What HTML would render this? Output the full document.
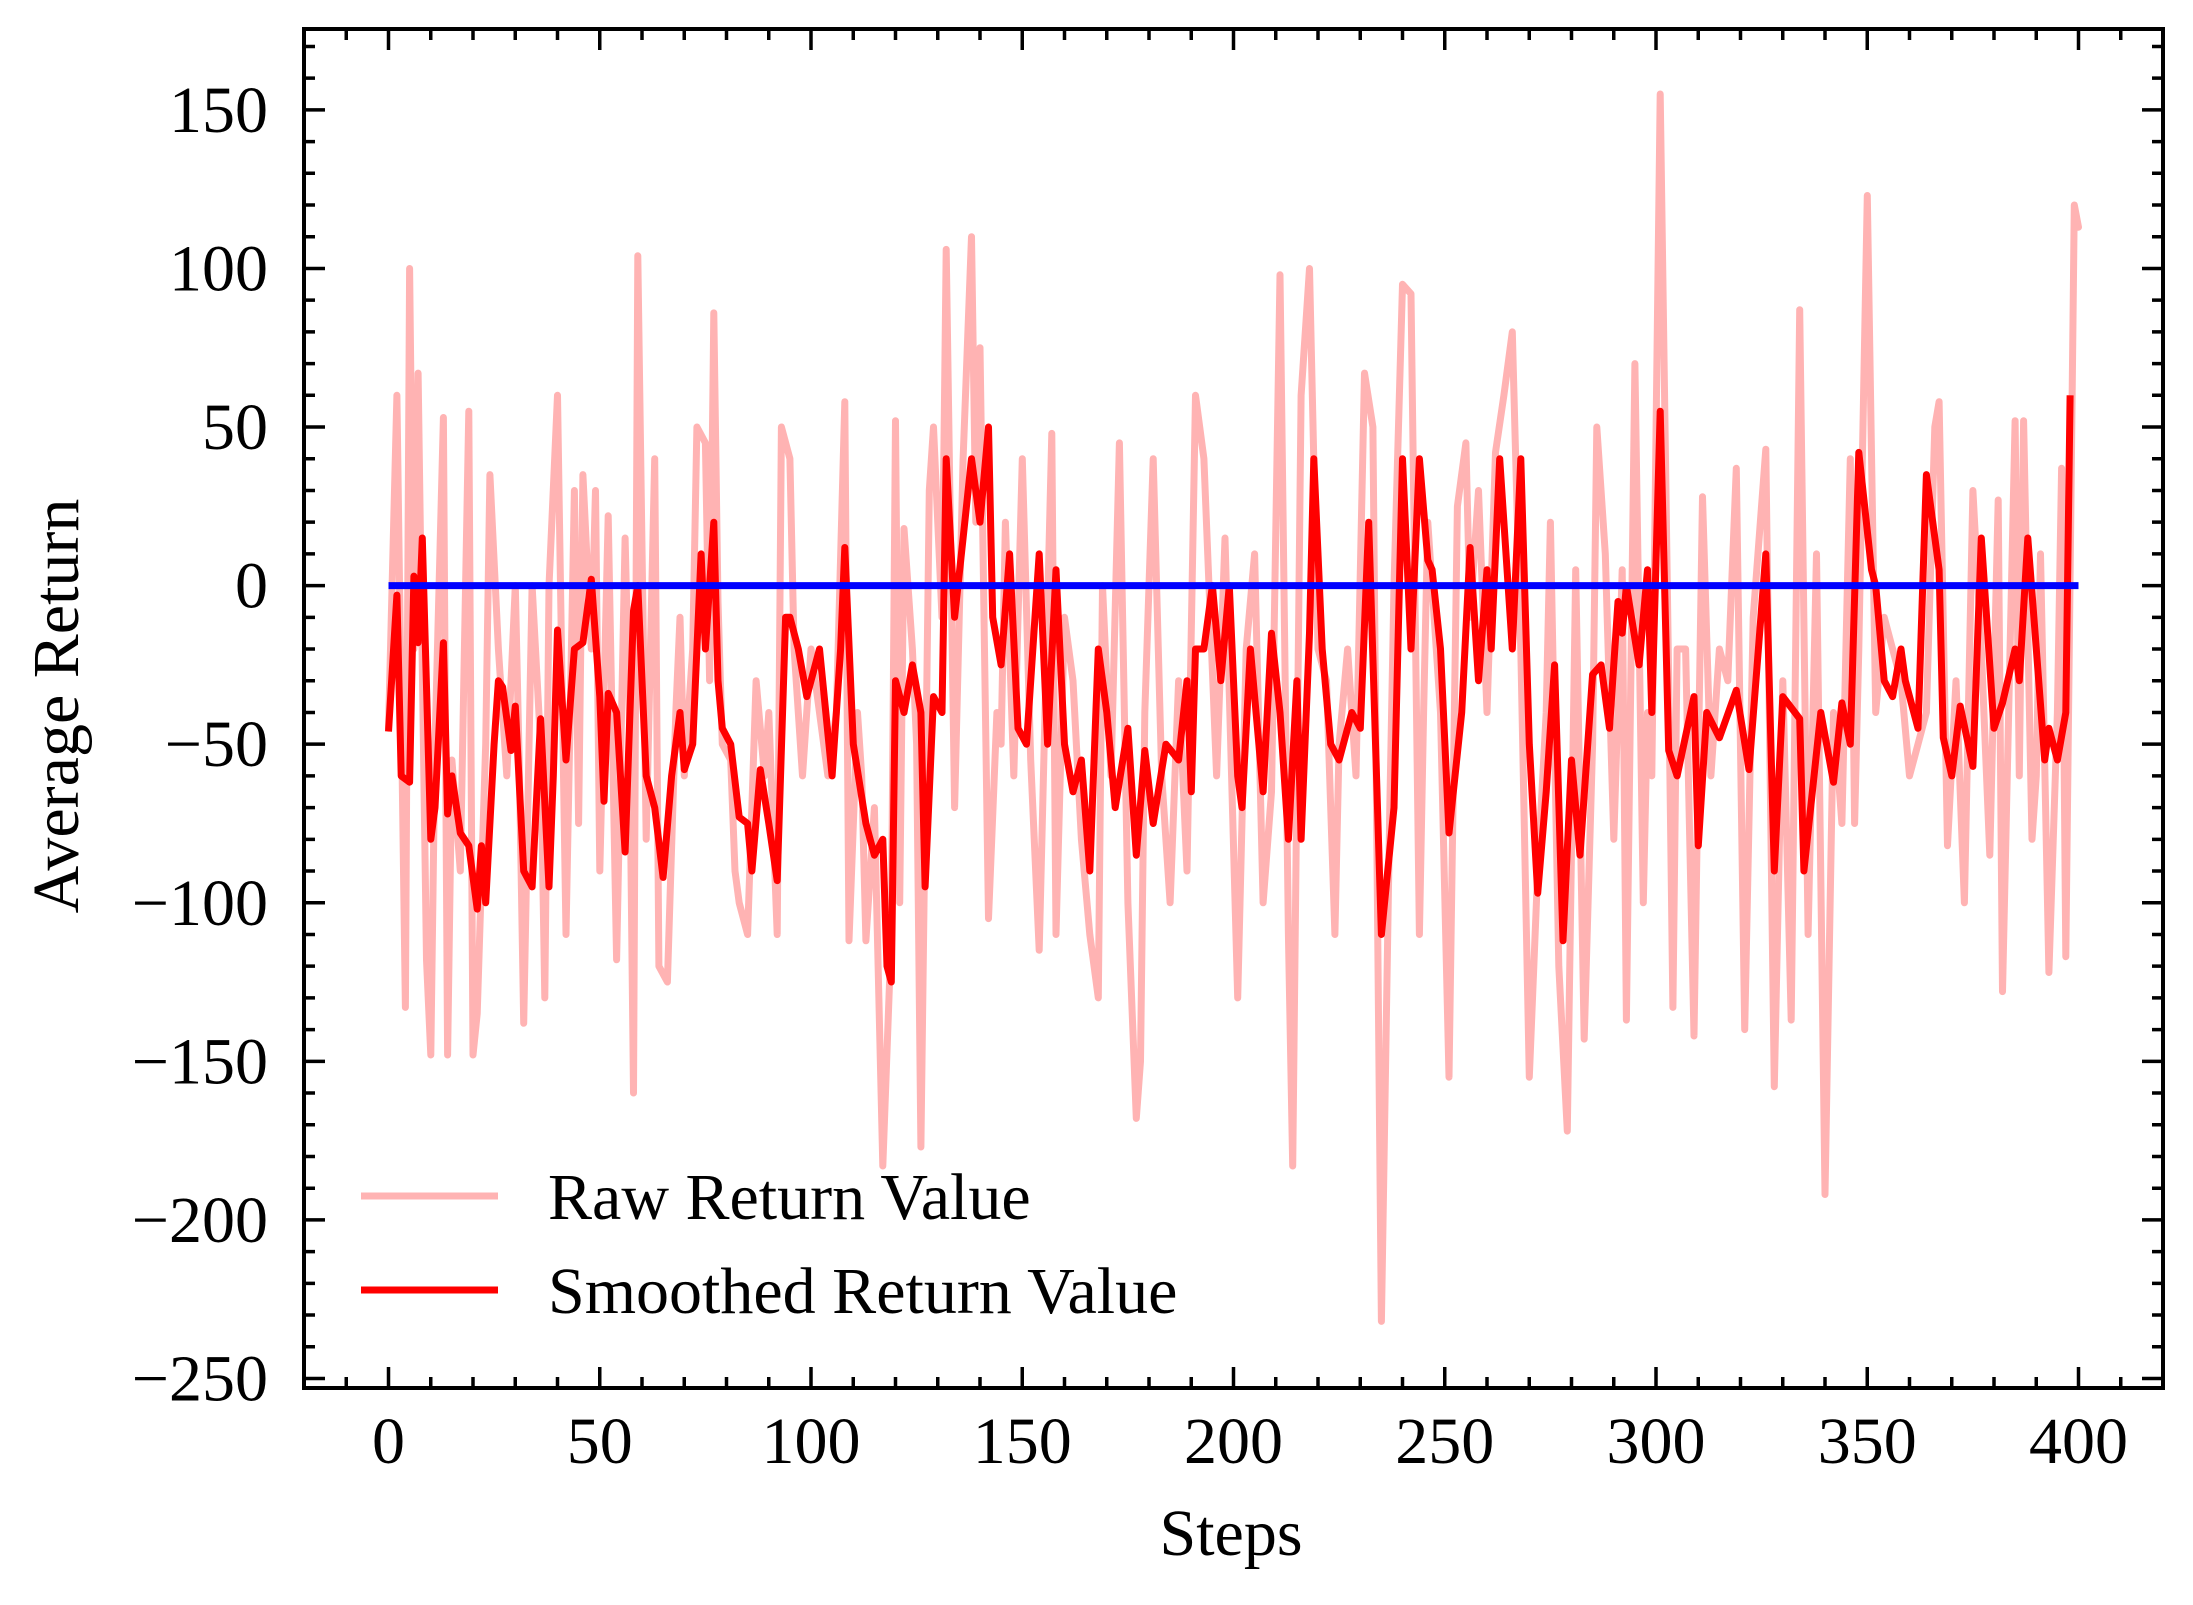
<!DOCTYPE html>
<html><head><meta charset="utf-8"><style>
html,body{margin:0;padding:0;background:#fff;}
svg text{font-family:"Liberation Serif",serif;fill:#000;}
</style></head><body>
<svg id="chart" width="2193" height="1600" viewBox="0 0 2193 1600" xmlns="http://www.w3.org/2000/svg">
<rect width="2193" height="1600" fill="#fff"/>
<g id="plot"></g>
</svg>
<script>
const rawSteps=[0,2,4,5,6,7,9,10,11,13,14,15,17,19,20,21,23,24,26,28,30,31,32,34,36,37,38,40,42,44,45,46,48,49,50,52,54,56,57,58,59,61,63,64,66,68,69,70,72,73,75,76,77,78,79,81,82,83,85,87,89,90,92,93,95,96,98,100,102,104,106,108,109,111,112,113,115,117,119,120,121,122,124,125,126,128,129,131,132,134,136,138,139,140,142,144,145,146,148,150,152,154,157,158,160,162,164,166,168,169,171,173,175,177,178,179,181,183,185,187,189,191,193,196,198,201,203,205,207,209,211,213,214,216,218,220,222,224,225,227,229,231,233,235,237,238,240,242,244,245,246,249,251,253,255,256,258,260,262,264,266,268,270,272,274,275,277,279,281,283,285,286,288,290,292,293,295,297,298,299,301,303,304,305,307,309,311,313,315,317,319,321,323,326,328,330,332,334,336,338,340,342,344,346,347,348,350,352,354,356,358,360,362,364,366,367,369,371,373,375,377,379,381,382,385,386,387,389,390,391,393,395,396,397,399,400];
const rawValues=[-45,60,-133,100,-20,67,-118,-148,-50,53,-148,-55,-90,55,-148,-135,-50,35,-20,-60,0,-60,-138,0,-50,-130,0,60,-110,30,-75,35,-20,30,-90,22,-118,15,-40,-160,104,-80,40,-120,-125,-40,-10,-60,-20,50,45,-30,86,-5,-50,-55,-90,-100,-110,-30,-60,-40,-110,50,40,-20,-60,-20,-40,-60,-40,58,-112,-40,-60,-112,-70,-183,-110,52,-100,18,-20,-50,-177,30,50,-10,106,-70,40,110,20,75,-105,-40,-50,20,-60,40,-55,-115,48,-110,-10,-30,-80,-110,-130,0,-60,45,-100,-168,-150,-40,40,-60,-100,-30,-90,60,40,-60,15,-130,-20,10,-100,-65,98,-110,-183,60,100,-20,-30,-110,-50,-20,-60,67,50,-232,-70,0,95,92,-110,-40,20,-40,-155,25,45,-10,30,-40,42,60,80,-20,-155,-90,-40,20,-120,-172,5,-143,-50,50,10,-80,5,-137,70,-100,-40,-60,155,-30,-133,-20,-20,-142,28,-60,-20,-30,37,-140,-10,43,-158,-30,-137,87,-110,10,-192,-40,-75,40,-75,-20,123,-40,-10,-20,-30,-60,-50,-40,50,58,-82,-30,-100,30,-20,-85,27,-128,52,-60,52,-80,-60,10,-122,-40,37,-117,120,113];
const smoothSteps=[0,2,3,5,6,7,8,10,11,13,14,15,17,19,21,22,23,25,26,27,29,30,32,34,36,38,39,40,42,44,46,48,50,51,52,54,56,58,59,61,63,65,67,69,70,72,74,75,77,78,79,81,83,85,86,88,90,92,94,95,97,99,102,105,107,108,110,113,115,117,118,119,120,122,124,126,127,129,131,132,134,136,138,140,142,143,145,147,149,151,154,156,158,160,162,164,166,168,170,172,175,177,179,181,184,187,189,190,191,193,195,197,199,201,202,204,207,209,211,213,215,216,218,219,221,223,225,228,230,232,235,238,240,242,244,246,247,249,251,254,256,258,260,261,263,266,268,270,272,274,276,278,280,282,285,287,289,291,292,293,296,298,299,301,303,305,309,310,312,315,319,322,326,328,330,334,335,339,342,344,346,348,351,352,354,356,358,359,362,364,367,368,370,372,375,377,380,382,385,386,388,390,392,393,395,397,398,400];
const smoothValues=[-46,-3,-60,-62,3,-18,15,-80,-70,-18,-72,-60,-78,-82,-102,-82,-100,-50,-30,-32,-52,-38,-90,-95,-42,-95,-60,-14,-55,-20,-18,2,-35,-68,-34,-40,-84,-8,0,-60,-70,-92,-60,-40,-58,-50,10,-20,20,-30,-45,-50,-73,-75,-90,-58,-75,-93,-10,-10,-20,-35,-20,-60,-20,12,-50,-75,-85,-80,-120,-125,-30,-40,-25,-40,-95,-35,-40,40,-10,15,40,20,50,-10,-25,10,-45,-50,10,-50,5,-50,-65,-55,-90,-20,-40,-70,-45,-85,-52,-75,-50,-55,-30,-65,-20,-20,0,-30,0,-60,-70,-20,-65,-15,-40,-80,-30,-80,-15,40,-20,-50,-55,-40,-45,20,-110,-70,40,-20,40,8,5,-20,-78,-40,12,-30,5,-20,40,-20,40,-50,-97,-65,-25,-112,-55,-85,-28,-25,-45,-5,-15,0,-25,5,-40,55,-52,-60,-35,-82,-40,-48,-33,-58,10,-90,-35,-42,-90,-40,-62,-37,-50,42,5,0,-30,-35,-20,-30,-45,35,5,-48,-60,-38,-57,15,-45,-37,-20,-30,15,-20,-55,-45,-55,-40,60];
const baselineValue=0;
const xTicks=[0,50,100,150,200,250,300,350,400];
const yTicks=[150,100,50,0,-50,-100,-150,-200,-250];
const xTickLabels=["0","50","100","150","200","250","300","350","400"];
const yTickLabels=["150","100","50","0","\u221250","\u2212100","\u2212150","\u2212200","\u2212250"];

const L=304,R=2163,T=29,B=1388;
const xMin=-20,xMax=420,yMin=-253,yMax=175.5;
const NS='http://www.w3.org/2000/svg';
function X(v){return L+(v-xMin)*(R-L)/(xMax-xMin);}
function Y(v){return T+(yMax-v)*(B-T)/(yMax-yMin);}
const g=document.getElementById('plot');
function mk(tag,attrs){const e=document.createElementNS(NS,tag);for(const k in attrs)e.setAttribute(k,attrs[k]);return e;}
function poly(xs,ys){return xs.map((s,i)=>X(s).toFixed(1)+','+Y(ys[i]).toFixed(1)).join(' ');}

const raw=mk('polyline',{points:poly(rawSteps,rawValues),fill:'none',stroke:'#ffb3b3','stroke-width':7,'stroke-linejoin':'round','stroke-linecap':'round'});


g.appendChild(raw);
const sm=mk('polyline',{points:poly(smoothSteps,smoothValues),fill:'none',stroke:'#ff0000','stroke-width':7,'stroke-linejoin':'round'});


g.appendChild(sm);
const bl=mk('line',{x1:X(0),x2:X(400),y1:Y(baselineValue),y2:Y(baselineValue),stroke:'#0000ff','stroke-width':7});


g.appendChild(bl);

const fr=mk('rect',{x:L,y:T,width:R-L,height:B-T,fill:'none',stroke:'#000','stroke-width':4});


g.appendChild(fr);

let tp='';
for(let v=-20;v<=420;v+=10){const x=X(v);const len=(v%50===0)?21:11;tp+=`M${x} ${B}v${-len}M${x} ${T}v${len}`;}
for(let v=-250;v<=170;v+=10){const y=Y(v);const len=(v%50===0)?21:11;tp+=`M${L} ${y}h${len}M${R} ${y}h${-len}`;}
const ticks=mk('path',{d:tp,stroke:'#000','stroke-width':3.5,fill:'none'});


g.appendChild(ticks);

xTicks.forEach((v,i)=>{const t=mk('text',{x:X(v),y:1463,'font-size':66,'text-anchor':'middle'});t.textContent=xTickLabels[i];


g.appendChild(t);});
yTicks.forEach((v,i)=>{const t=mk('text',{x:268,y:Y(v)+22,'font-size':66,'text-anchor':'end'});t.textContent=yTickLabels[i];


g.appendChild(t);});

const xt=mk('text',{x:1231,y:1555,'font-size':66,'text-anchor':'middle'});xt.textContent='Steps';


g.appendChild(xt);
const yt=mk('text',{x:0,y:0,'font-size':66,'text-anchor':'middle',transform:'translate(78,706) rotate(-90)'});yt.textContent='Average Return';


g.appendChild(yt);

const lg=mk('g',{});


g.appendChild(lg);
const l1=mk('line',{x1:361,x2:498,y1:1196,y2:1196,stroke:'#ffb3b3','stroke-width':7});


lg.appendChild(l1);
const t1=mk('text',{x:548,y:1219,'font-size':66});t1.textContent='Raw Return Value';


lg.appendChild(t1);
const l2=mk('line',{x1:361,x2:498,y1:1290,y2:1290,stroke:'#ff0000','stroke-width':7});


lg.appendChild(l2);
const t2=mk('text',{x:548,y:1313,'font-size':66});t2.textContent='Smoothed Return Value';


lg.appendChild(t2);
</script>
</body></html>
